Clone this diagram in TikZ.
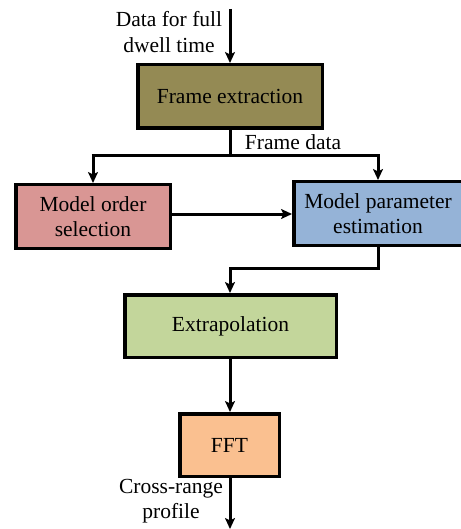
\documentclass[tikz,border=0pt]{standalone}
\usepackage{fontspec}
\setmainfont{Liberation Serif}
\usetikzlibrary{arrows.meta}
\definecolor{olivebox}{HTML}{948A54}
\definecolor{redbox}{HTML}{D99694}
\definecolor{bluebox}{HTML}{95B3D7}
\definecolor{greenbox}{HTML}{C3D69B}
\definecolor{orangebox}{HTML}{FAC090}
\begin{document}
\begin{tikzpicture}[x=1pt,y=-1pt,
  box/.style={draw=black,line width=3.5pt,rectangle,align=center,inner sep=0pt,
    font=\fontsize{21.5}{25.5}\selectfont},
  lbl/.style={align=center,inner sep=0pt,font=\fontsize{21.5}{25.5}\selectfont},
  arr/.style={line width=3pt,-{Stealth[length=11pt,width=10pt,inset=2.5pt]}},
  ln/.style={line width=3pt}]
\useasboundingbox (0,0) rectangle (460,529);
\node[box,fill=olivebox,minimum width=184.5pt,minimum height=63.5pt] (fe) at (230,96.5) {Frame extraction};
\node[box,fill=redbox,minimum width=154.5pt,minimum height=63.5pt] (mos) at (93,216.5) {Model order\\selection};
\node[box,fill=bluebox,minimum width=168.5pt,minimum height=63.5pt] (mpe) at (378,213.5) {Model parameter\\estimation};
\node[box,fill=greenbox,minimum width=211.5pt,minimum height=62.5pt] (ex) at (230.5,326) {Extrapolation};
\node[box,fill=orangebox,minimum width=99.5pt,minimum height=62.5pt] (fft) at (229.5,445) {FFT};
\node[lbl] (din) at (169,32) {Data for full\\dwell time};
\node[lbl] (fd) at (293,142) {Frame data};
\node[lbl] (cr) at (171,501) {Cross-range\\profile};
\coordinate (in) at (230,9);
\coordinate (out) at (230,529);
\coordinate (split) at (230,156);
\coordinate (lsplit) at (93,156);
\coordinate (rsplit) at (378,156);
\coordinate (mid1) at (378,268);
\coordinate (mid2) at (230,268);
\draw[arr] (in) -- (in |- fe.north);
\draw[ln] (fe.south -| split) -- (split);
\draw[arr] (lsplit) -- (mos.north);
\draw[arr] (rsplit) -- (mpe.north);
\draw[ln] ([xshift=-1.5pt]lsplit) -- ([xshift=1.5pt]rsplit);
\draw[arr] ([yshift=2.5pt]mos.east) -- ([yshift=2.5pt]mos.east -| mpe.west);
\draw[ln] (mpe.south) -- (mid1) -- ([xshift=-1.5pt]mid2);
\draw[arr] (mid2) -- (mid2 |- ex.north);
\draw[arr] (ex.south -| mid2) -- (mid2 |- fft.north);
\draw[arr] (mid2 |- fft.south) -- (out);
\end{tikzpicture}
\end{document}
